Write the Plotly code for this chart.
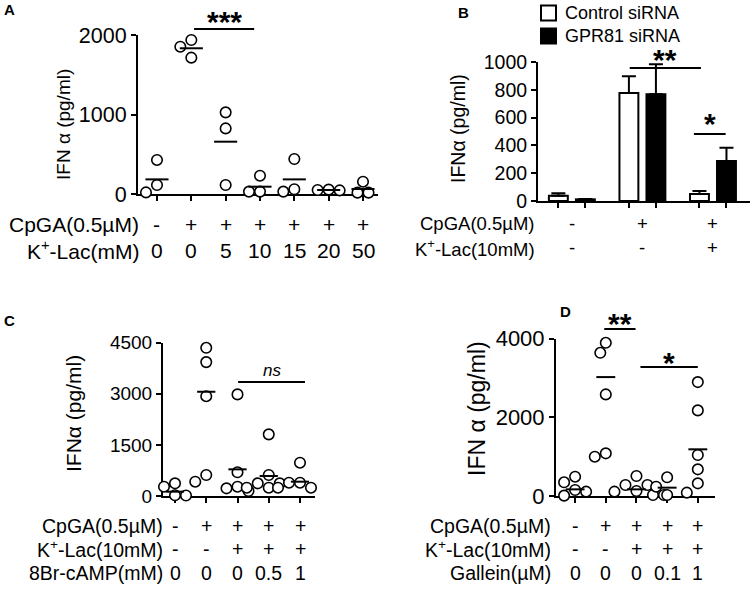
import plotly.graph_objects as go

W, H = 756, 592
FONT = "Arial, Liberation Sans, sans-serif"

# ---------------- data ----------------
# panel A : IFN alpha, pg/ml
a_cpga = ["-", "+", "+", "+", "+", "+", "+"]
a_klac = ["0", "0", "5", "10", "15", "20", "50"]
a_points = [
    [428, 113, 20],
    [1937, 1853, 1715],
    [1027, 825, 113],
    [230, 30, 30],
    [440, 60, 30],
    [55, 50, 45],
    [155, 17, 17],
]
a_means = [184, 1833, 658, 92, 184, 50, 63]

# panel B : bars with SEM
b_names = ["Control siRNA", "GPR81 siRNA"]
b_cpga = ["-", "+", "+"]
b_klac = ["-", "-", "+"]
b_ctrl = [38, 777, 50]
b_ctrl_err = [17, 120, 22]
b_gpr = [12, 768, 288]
b_gpr_err = [3, 215, 95]

# panel C
c_cpga = ["-", "+", "+", "+", "+"]
c_klac = ["-", "-", "+", "+", "+"]
c_camp = ["0", "0", "0", "0.5", "1"]
c_points = [
    [372, 273, 20, 15, 10],
    [4350, 3930, 2930, 616, 420],
    [2983, 695, 273, 225, 147],
    [1809, 616, 372, 372, 244, 244],
    [978, 391, 391, 244, 244, 244],
]
c_means = [127, 3060, 783, 587, 420]

# panel D
d_cpga = ["-", "+", "+", "+", "+"]
d_klac = ["-", "-", "+", "+", "+"]
d_gallein = ["0", "0", "0", "0.1", "1"]
d_points = [
    [491, 348, 153, 110, 10, 10],
    [3896, 3642, 2583, 1085, 1000],
    [509, 280, 280, 127, 110, 25, 25],
    [475, 237, 25],
    [2897, 2177, 1043, 678, 322, 85],
]
d_means = [169, 3024, 169, 212, 1187]

# ---------------- panel geometry ----------------
# (x domain, y domain, x range, y range)
panels = {
    "A": ([138 / W, 378 / W], [1 - 194 / H, 1 - 35 / H], [0.447, 7.437], [0, 2000]),
    "B": ([538 / W, 750 / W], [1 - 201 / H, 1 - 62 / H], [0.52, 3.525], [0, 1000]),
    "C": ([163 / W, 315 / W], [1 - 496 / H, 1 - 342.7 / H], [0.616, 5.48], [0, 4500]),
    "D": ([556 / W, 715 / W], [1 - 496 / H, 1 - 338.7 / H], [0.377, 5.56], [0, 4000]),
}
axis_ids = {"A": ("x", "y"), "B": ("x2", "y2"), "C": ("x3", "y3"), "D": ("x4", "y4")}
# font sizes differ a bit between panels in the original figure
tick_size = {"A": 21.5, "B": 19.5, "C": 19, "D": 22}
row_size = {"A": 21, "B": 18.5, "C": 19.5, "D": 19.5}


def swarm(vals, key, d=11):
    # simple beeswarm: offsets in axis units so circles do not overlap
    xd, yd, xr, yr = panels[key]
    ppv = (yd[1] - yd[0]) * H / (yr[1] - yr[0])
    ppu = (xd[1] - xd[0]) * W / (xr[1] - xr[0])
    cands = [0]
    for k in range(1, 8):
        cands += [-k * d / 2, k * d / 2]
    placed = []
    out = []
    for v in vals:
        y = v * ppv
        for c in cands:
            if all(((c - px) ** 2 + (y - py) ** 2) ** 0.5 >= d for px, py in placed):
                placed.append((c, y))
                out.append(c / ppu)
                break
    return out


fig = go.Figure()


def dot_panel(key, points, means, msize):
    xa, ya = axis_ids[key]
    xs, ys = [], []
    for i, vals in enumerate(points):
        offs = swarm(vals, key)
        xs += [i + 1 + o for o in offs]
        ys += vals
    fig.add_trace(go.Scatter(
        x=xs, y=ys, mode="markers", xaxis=xa, yaxis=ya, showlegend=False,
        cliponaxis=False,
        marker=dict(symbol="circle", size=10.5, color="white",
                    line=dict(color="black", width=1.6))))
    fig.add_trace(go.Scatter(
        x=list(range(1, len(means) + 1)), y=means, mode="markers", xaxis=xa, yaxis=ya,
        showlegend=False, cliponaxis=False,
        marker=dict(symbol="line-ew", size=msize, color="black",
                    line=dict(color="black", width=2))))


dot_panel("A", a_points, a_means, 16.5)
dot_panel("C", c_points, c_means, 13)
dot_panel("D", d_points, d_means, 13.5)

# panel B bars
bgap = 0.234
for name, vals, err, col in [(b_names[0], b_ctrl, b_ctrl_err, "white"),
                             (b_names[1], b_gpr, b_gpr_err, "black")]:
    fig.add_trace(go.Bar(
        x=[1, 2, 3], y=vals, name=name, xaxis="x2", yaxis="y2", showlegend=False,
        marker=dict(color=col, line=dict(color="black", width=2)),
        error_y=dict(type="data", array=err, arrayminus=[0] * len(err), symmetric=False,
                     color="black", thickness=2, width=7)))

# ---------------- axes ----------------
yticks = {"A": [0, 1000, 2000], "B": [0, 200, 400, 600, 800, 1000],
          "C": [0, 1500, 3000, 4500], "D": [0, 2000, 4000]}
nx = {"A": 7, "B": 3, "C": 5, "D": 5}
slot = (1 - bgap) / 2
for key, (xd, yd, xr, yr) in panels.items():
    xa, ya = axis_ids[key]
    xname = "xaxis" + xa[1:]
    yname = "yaxis" + ya[1:]
    if key == "B":
        tv = []
        for g in range(1, 4):
            tv += [g - slot / 2, g + slot / 2]
    else:
        tv = list(range(1, nx[key] + 1))
    fig.update_layout({
        xname: dict(domain=xd, range=xr, anchor=ya, tickvals=tv, showticklabels=False,
                    ticks="outside", ticklen=5, tickwidth=2, tickcolor="black",
                    showline=True, linewidth=2, linecolor="black", showgrid=False,
                    zeroline=False, layer="below traces", automargin=False),
        yname: dict(domain=yd, range=yr, anchor=xa, tickvals=yticks[key],
                    ticks="outside", ticklen=5, tickwidth=2, tickcolor="black",
                    tickfont=dict(family=FONT, size=tick_size[key], color="black"),
                    showline=True, linewidth=2, linecolor="black",
                    showgrid=False, zeroline=False, layer="below traces",
                    automargin=False),
    })

fig.update_layout(barmode="group", bargap=bgap, bargroupgap=0.3)

# ---------------- text ----------------
ann = []


def txt(x, y, s, xref="paper", size=20, xanchor="center", **kw):
    ann.append(dict(x=x, y=y, xref=xref, yref="paper", text=s, showarrow=False,
                    xanchor=xanchor, yanchor="middle",
                    font=dict(family=FONT, size=size, color="black"), **kw))


def rows(key, right_px, rows_px, labels, values):
    xa = axis_ids[key][0]
    for py, lab, vals in zip(rows_px, labels, values):
        txt(right_px / W, 1 - py / H, lab, size=row_size[key], xanchor="right")
        for i, v in enumerate(vals):
            txt(i + 1, 1 - py / H, v, xref=xa, size=row_size[key])


rows("A", 141, [224, 250], ["CpGA(0.5µM)", "K<sup>+</sup>-Lac(mM)"], [a_cpga, a_klac])
rows("B", 537, [223, 248], ["CpGA(0.5µM)", "K<sup>+</sup>-Lac(10mM)"], [b_cpga, b_klac])
rows("C", 165, [526, 549, 573], ["CpGA(0.5µM)", "K<sup>+</sup>-Lac(10mM)", "8Br-cAMP(mM)"],
     [c_cpga, c_klac, c_camp])
rows("D", 553, [526, 549, 573], ["CpGA(0.5µM)", "K<sup>+</sup>-Lac(10mM)", "Gallein(µM)"],
     [d_cpga, d_klac, d_gallein])

# y titles
for x, y, s, fs in [(63, 125, "IFN α (pg/ml)", 19), (458, 129, "IFNα (pg/ml)", 19.5),
                    (73, 414, "IFNα (pg/ml)", 21), (477, 409, "IFN α (pg/ml)", 23)]:
    txt(x / W, 1 - y / H, s, size=fs, textangle=-90)

# panel letters
for x, y, s in [(9, 10, "A"), (463, 12, "B"), (9, 320, "C"), (565, 312, "D")]:
    txt(x / W, 1 - y / H, "<b>%s</b>" % s, size=15)

# legend of panel B (white / black boxes)
shapes = []
for i, (name, col) in enumerate(zip(b_names, ["white", "black"])):
    cy = 13 + 23 * i
    shapes.append(dict(type="rect", xref="paper", yref="paper",
                       x0=541 / W, x1=556 / W, y0=1 - (cy + 7.5) / H, y1=1 - (cy - 7.5) / H,
                       fillcolor=col, line=dict(color="black", width=2)))
    txt(563 / W, 1 - cy / H, name, size=18, xanchor="left")

# significance marks: (axis, x0, x1, line y px, text, text y px)
sig = [
    ("x", 2.08, 3.83, 29, "<b>***</b>", 17),
    ("x2", 1.82, 2.83, 68, "<b>**</b>", 55),
    ("x2", 2.73, 3.18, 134, "<b>*</b>", 120),
    ("x3", 3.02, 5.16, 382, "<i>ns</i>", 370),
    ("x4", 1.95, 2.97, 329, "<b>**</b>", 319),
    ("x4", 3.13, 5.0, 367, "<b>*</b>", 358),
]
for xa, x0, x1, ly, s, ty in sig:
    shapes.append(dict(type="line", xref=xa, yref="paper", x0=x0, x1=x1,
                       y0=1 - ly / H, y1=1 - ly / H, line=dict(color="black", width=2)))
    if s.startswith("<i>"):
        txt((x0 + x1) / 2, 1 - ty / H, s, xref=xa, size=17)
    else:
        txt((x0 + x1) / 2, 1 - (ty + 4) / H, s, xref=xa, size=30)

fig.update_layout(
    width=W, height=H, margin=dict(l=0, r=0, t=0, b=0, autoexpand=False),
    paper_bgcolor="white", plot_bgcolor="white",
    annotations=ann, shapes=shapes, showlegend=False,
)

# page has a default 8px body margin; drop it so the figure sits at the corner
fig.write_html("out.html", config={"displayModeBar": False},
               post_script="document.body.style.margin = '0';")
